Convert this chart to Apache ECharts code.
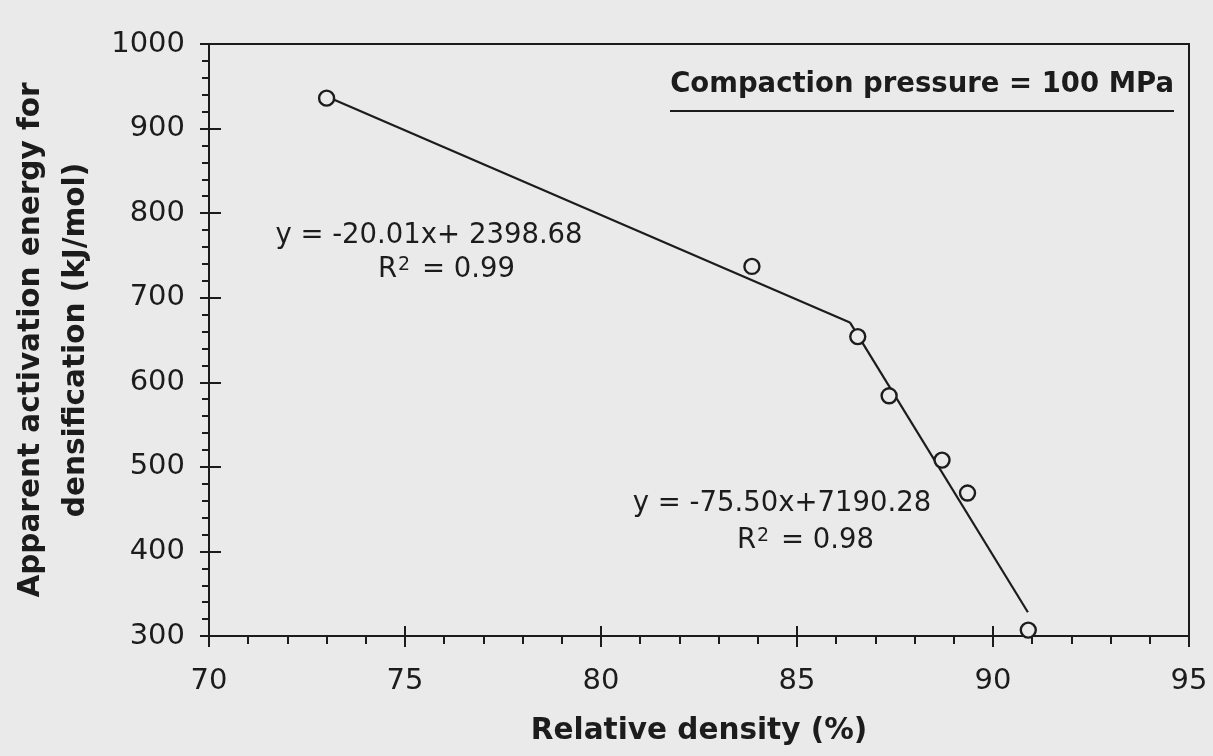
<!DOCTYPE html>
<html>
<head>
<meta charset="utf-8">
<script src="https://cdn.jsdelivr.net/npm/echarts@6/dist/echarts.min.js"></script>
<style>
  html, body { margin: 0; padding: 0; background: #eaeaea; }
  #chart { width: 1213px; height: 756px; }
</style>
</head>
<body>
<div id="chart"></div>
<script>
// Measured samples: relative density (%) vs apparent activation energy (kJ/mol)
const densityPct = [73.0, 83.85, 86.55, 87.35, 88.7, 89.35, 90.9];
const activationEnergy = [936, 737, 654, 584, 508, 469, 307];

// Linear fits: [slope, intercept] and the density range each one spans
const fitLowCoef = [-20.01, 2398.68];
const fitLowRange = [73.0, 86.35];
const fitHighCoef = [-75.50, 7190.28];
const fitHighRange = [86.35, 90.89];

const fitLowText = ['y = -20.01x+ 2398.68', 'R{sup|2} = 0.99'];
const fitHighText = ['y = -75.50x+7190.28', 'R{sup|2} = 0.98'];
const noteText = 'Compaction pressure = 100 MPa';

const xTicks = { min: 70, max: 95, step: 5 };
const yTicks = { min: 300, max: 1000, step: 100 };

const ink = '#1c1c1c';
const paper = '#eaeaea';
const font = '"DejaVu Sans", "Liberation Sans", sans-serif';

function fitLine(coef, range) {
  return range.map(x => [x, coef[0] * x + coef[1]]);
}

const chart = echarts.init(document.getElementById('chart'), null, { renderer: 'canvas' });

const baseX = {
  type: 'value', min: xTicks.min, max: xTicks.max, interval: xTicks.step,
  position: 'bottom', splitLine: { show: false }
};
const baseY = {
  type: 'value', min: yTicks.min, max: yTicks.max, interval: yTicks.step,
  position: 'left', splitLine: { show: false }
};

const supStyle = { fontSize: 19, fontFamily: font, verticalAlign: 'top', fill: ink, padding: [0, 3, 0, 1] };

chart.setOption({
  backgroundColor: paper,
  animation: false,
  grid: {
    left: 209, right: 24, top: 44, bottom: 120,
    outerBoundsMode: 'none', containLabel: false,
    show: true, borderColor: ink, borderWidth: 2, backgroundColor: 'transparent'
  },
  xAxis: [
    Object.assign({}, baseX, {
      name: 'Relative density (%)',
      nameLocation: 'middle',
      nameGap: 80,
      nameTextStyle: { fontFamily: font, fontWeight: 'bold', fontSize: 29.5, color: ink },
      axisLine: { show: true, lineStyle: { color: ink, width: 2 } },
      axisTick: { show: true, inside: false, length: 11, lineStyle: { color: ink, width: 2 } },
      minorTick: { show: true, splitNumber: 5, length: 8, lineStyle: { color: ink, width: 2 } },
      axisLabel: { fontFamily: font, fontSize: 29, color: ink, margin: 31, formatter: v => String(v) }
    }),
    // inner half of the major ticks, so they cross the axis line
    Object.assign({}, baseX, {
      axisLine: { show: false },
      axisTick: { show: true, inside: true, length: 10, lineStyle: { color: ink, width: 2 } },
      axisLabel: { show: false }
    })
  ],
  yAxis: [
    Object.assign({}, baseY, {
      name: 'Apparent activation energy for\ndensification (kJ/mol)',
      nameLocation: 'middle',
      nameGap: 110,
      nameTextStyle: { fontFamily: font, fontWeight: 'bold', fontSize: 29.5, color: ink, lineHeight: 45 },
      axisLine: { show: true, lineStyle: { color: ink, width: 2 } },
      axisTick: { show: true, inside: false, length: 9, lineStyle: { color: ink, width: 2 } },
      minorTick: { show: true, splitNumber: 5, length: 7, lineStyle: { color: ink, width: 2 } },
      axisLabel: { fontFamily: font, fontSize: 29, color: ink, margin: 24, formatter: v => String(v) }
    }),
    Object.assign({}, baseY, {
      axisLine: { show: false },
      axisTick: { show: true, inside: true, length: 12, lineStyle: { color: ink, width: 2 } },
      axisLabel: { show: false }
    })
  ],
  series: [
    {
      type: 'line', name: 'fit-low', xAxisIndex: 0, yAxisIndex: 0,
      data: fitLine(fitLowCoef, fitLowRange),
      showSymbol: false, symbol: 'none',
      lineStyle: { color: ink, width: 2.2 }, z: 2
    },
    {
      type: 'line', name: 'fit-high', xAxisIndex: 0, yAxisIndex: 0,
      data: fitLine(fitHighCoef, fitHighRange),
      showSymbol: false, symbol: 'none',
      lineStyle: { color: ink, width: 2.2 }, z: 2
    },
    {
      type: 'scatter', name: 'samples', xAxisIndex: 0, yAxisIndex: 0,
      data: densityPct.map((x, i) => [x, activationEnergy[i]]),
      symbol: 'circle', symbolSize: 15,
      itemStyle: { color: paper, borderColor: ink, borderWidth: 2.4, opacity: 1 },
      z: 5
    }
  ],
  graphic: [
    {
      type: 'text', z: 10,
      style: { text: noteText, x: 1174, y: 85, align: 'right', verticalAlign: 'middle',
               font: 'bold 27.5px ' + font, fill: ink }
    },
    {
      type: 'line', z: 10,
      shape: { x1: 670, y1: 111, x2: 1174, y2: 111 },
      style: { stroke: ink, lineWidth: 2 }
    },
    {
      type: 'text', z: 10,
      style: { text: fitLowText[0], x: 429, y: 236, align: 'center', verticalAlign: 'middle',
               font: '27.5px ' + font, fill: ink }
    },
    {
      type: 'text', z: 10,
      style: { text: fitLowText[1], x: 378, y: 270, align: 'left', verticalAlign: 'middle',
               font: '27.5px ' + font, fill: ink, rich: { sup: supStyle } }
    },
    {
      type: 'text', z: 10,
      style: { text: fitHighText[0], x: 782, y: 504, align: 'center', verticalAlign: 'middle',
               font: '27.5px ' + font, fill: ink }
    },
    {
      type: 'text', z: 10,
      style: { text: fitHighText[1], x: 737, y: 541, align: 'left', verticalAlign: 'middle',
               font: '27.5px ' + font, fill: ink, rich: { sup: supStyle } }
    }
  ]
});
</script>
</body>
</html>
